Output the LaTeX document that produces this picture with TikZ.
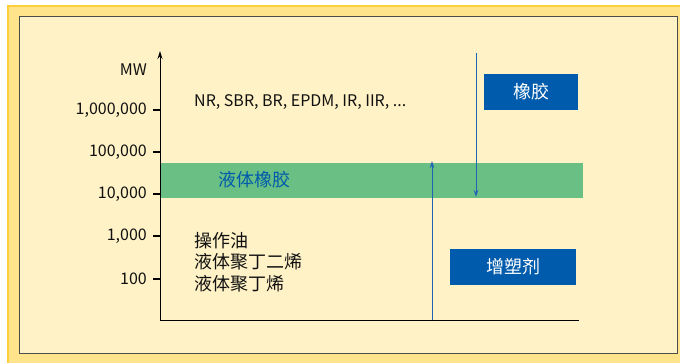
\documentclass[tikz,border=0pt]{standalone}
\usepackage{fontspec}
\setmainfont{Noto Sans CJK SC}
\usetikzlibrary{arrows.meta}
\definecolor{frameY}{HTML}{FFE48C}
\definecolor{frameE}{HTML}{FFCF3A}
\definecolor{panel}{HTML}{FFF2C6}
\definecolor{band}{HTML}{6ABF84}
\definecolor{boxblue}{HTML}{005BAC}
\definecolor{arrblue}{HTML}{1F64B4}
\definecolor{txt}{HTML}{111111}
\tikzset{
  lat/.style={font=\fontsize{16}{18}\selectfont, text=txt, inner sep=0pt},
  cjk/.style={font=\fontsize{18}{21.5}\selectfont, text=txt, inner sep=0pt},
  tick/.style={line width=1.1pt, black},
  bluebox/.style={fill=boxblue, text=white, font=\fontsize{18}{21}\selectfont, inner sep=0pt},
  barrow/.style={draw=arrblue, line width=0.9pt, -{Stealth[length=7pt,width=4.5pt]}},
}
\begin{document}
\begin{tikzpicture}[x=1pt,y=-1pt]
\useasboundingbox (0,0) rectangle (680,362);
\fill[frameY] (8,6) rectangle (690,370);
\draw[frameE, line width=1.5pt] (8,370) -- (8,6) -- (690,6);
\draw[fill=panel, draw=black!70, line width=1pt] (19,16) rectangle (677,353);
% green band
\fill[band] (160,163) rectangle (583,198);
% axes
\coordinate (o) at (160,320);
\coordinate (ytop) at (160,51);
\coordinate (xend) at (579,320);
\draw[line width=1pt, -{Stealth[length=8pt,width=5pt]}] (o) -- (ytop);
\draw[line width=1pt] (o) -- (xend);
% ticks and labels
\foreach \y/\l/\n in {110/{1,000,000}/a, 152/{100,000}/b, 194/{10,000}/c, 236/{1,000}/d, 279/{100}/e}{
  \draw[tick] (153,\y) -- (160,\y);
  \node[lat, anchor=east] (t\n) at (147,\y) {\l};
}
\node[lat, anchor=east] (mw) at (147,70) {MW};
% texts
\node[lat, anchor=west] (rub) at (194,102) {NR, SBR, BR, EPDM, IR, IIR, ...};
\node[cjk, text=boxblue, anchor=center] (liq) at (254,180) {液体橡胶};
\node[cjk, anchor=north west, align=left] (oil) at (194,232) {操作油\\液体聚丁二烯\\液体聚丁烯};
% blue boxes
\node[bluebox, minimum width=94pt, minimum height=36pt] (b1) at (531,92) {橡胶};
\node[bluebox, minimum width=126pt, minimum height=36pt] (b2) at (513,267) {增塑剂};
% blue arrows
\coordinate (d0) at (476,53);
\coordinate (d1) at (476,197);
\coordinate (u0) at (432,320);
\coordinate (u1) at (432,161);
\draw[barrow] (d0) -- (d1);
\draw[barrow] (u0) -- (u1);
\end{tikzpicture}
\end{document}
